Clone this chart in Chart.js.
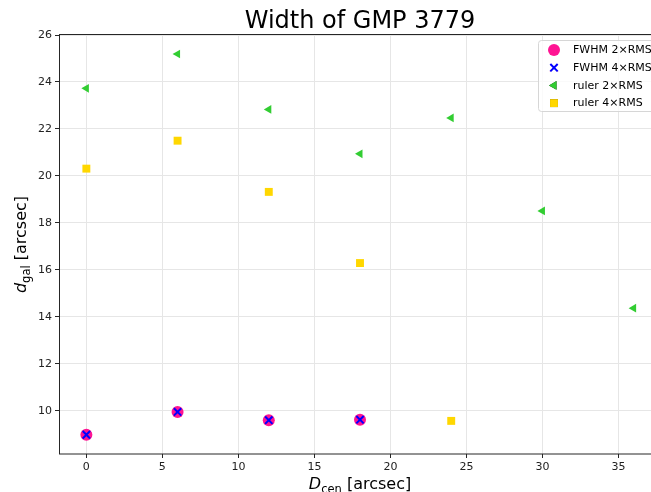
<!DOCTYPE html>
<html>
<head>
<meta charset="utf-8">
<script src="https://cdn.jsdelivr.net/npm/chart.js@4/dist/chart.umd.min.js"></script>
<style>
  html, body { margin: 0; padding: 0; background: #fff; overflow: hidden; }
  #wrap { width: 651px; height: 492px; overflow: hidden; }
</style>
</head>
<body>
<div id="wrap"><canvas id="c" width="680" height="492"></canvas></div>
<script>
// Distance from centre (arcsec) for each measurement
const fwhmX = [0, 6, 12, 18];
const fwhm2rms = [8.98, 9.95, 9.6, 9.62];
const fwhm4rms = [8.98, 9.95, 9.6, 9.62];

const rulerX = [0, 6, 12, 18, 24, 30, 36];
const ruler2rms = [23.73, 25.19, 22.83, 20.94, 22.47, 18.51, 14.37];
const ruler4x = [0, 6, 12, 18, 24];
const ruler4rms = [20.31, 21.5, 19.32, 16.29, 9.57];

const seriesNames = ['FWHM 2\u00d7RMS', 'FWHM 4\u00d7RMS', 'ruler 2\u00d7RMS', 'ruler 4\u00d7RMS'];
const xTickStep = 5;
const yTickStep = 2;

const pts = (xs, ys) => xs.map((x, i) => ({ x: x, y: ys[i] }));

const FONT = '"DejaVu Sans", sans-serif';

// Frame, title, axis labels and legend
const decor = {
  id: 'decor',
  afterDraw(chart) {
    const ctx = chart.ctx;
    const a = chart.chartArea;
    ctx.save();
    // spines
    ctx.strokeStyle = '#262626';
    ctx.lineWidth = 1;
    ctx.strokeRect(a.left + 0.5, a.top - 0.5, a.right - a.left, a.bottom - a.top + 0.5);

    const cx = (a.left + a.right) / 2;
    ctx.fillStyle = '#000';
    // title
    ctx.font = '24px ' + FONT;
    ctx.textAlign = 'center';
    ctx.textBaseline = 'alphabetic';
    ctx.fillText('Width of GMP 3779', cx, 28);

    // x label: D_cen [arcsec]
    drawSubLabel(ctx, 'D', 'cen', ' [arcsec]', cx, 489, 0);
    // y label: d_gal [arcsec]
    drawSubLabel(ctx, 'd', 'gal', ' [arcsec]', 26, (a.top + a.bottom) / 2, -Math.PI / 2);

    // legend
    const lx = 538, ly = 40, lw = 140, lh = 71;
    ctx.fillStyle = 'rgba(255,255,255,0.8)';
    ctx.strokeStyle = '#d6d6d6';
    ctx.lineWidth = 1;
    roundRect(ctx, lx + 0.5, ly + 0.5, lw, lh, 3);
    ctx.fill();
    ctx.stroke();
    ctx.font = '11px ' + FONT;
    ctx.textAlign = 'left';
    ctx.textBaseline = 'middle';
    chart.data.datasets.forEach((ds, i) => {
      const y = ly + 10 + i * 17.7;
      drawMarker(ctx, ds, 554, y);
      ctx.fillStyle = '#000';
      ctx.fillText(seriesNames[i], 573, y + 0.5);
    });
    ctx.restore();
  }
};

function roundRect(ctx, x, y, w, h, r) {
  ctx.beginPath();
  ctx.moveTo(x + r, y);
  ctx.lineTo(x + w - r, y);
  ctx.arcTo(x + w, y, x + w, y + r, r);
  ctx.lineTo(x + w, y + h - r);
  ctx.arcTo(x + w, y + h, x + w - r, y + h, r);
  ctx.lineTo(x + r, y + h);
  ctx.arcTo(x, y + h, x, y + h - r, r);
  ctx.lineTo(x, y + r);
  ctx.arcTo(x, y, x + r, y, r);
  ctx.closePath();
}

function drawMarker(ctx, ds, x, y) {
  Chart.helpers.drawPoint(ctx, {
    pointStyle: ds.pointStyle,
    rotation: ds.pointRotation || 0,
    radius: ds.pointRadius,
    borderWidth: ds.borderWidth
  }, x, y);
  ctx.fillStyle = ds.backgroundColor;
  ctx.strokeStyle = ds.borderColor;
  ctx.lineWidth = ds.borderWidth;
  ctx.fill();
  if (ds.borderWidth > 0) ctx.stroke();
}

function drawSubLabel(ctx, main, sub, rest, x, y, rot) {
  ctx.save();
  ctx.translate(x, y);
  ctx.rotate(rot);
  const big = '16px ' + FONT;
  const bigIt = 'italic 16px ' + FONT;
  const small = '11.5px ' + FONT;
  ctx.font = bigIt; const w1 = ctx.measureText(main).width;
  ctx.font = small; const w2 = ctx.measureText(sub).width;
  ctx.font = big; const w3 = ctx.measureText(rest).width;
  let sx = -(w1 + w2 + w3) / 2;
  ctx.fillStyle = '#000';
  ctx.textAlign = 'left';
  ctx.textBaseline = 'alphabetic';
  ctx.font = bigIt; ctx.fillText(main, sx, 0); sx += w1;
  ctx.font = small; ctx.fillText(sub, sx, 3.5); sx += w2;
  ctx.font = big; ctx.fillText(rest, sx, 0);
  ctx.restore();
}

new Chart(document.getElementById('c'), {
  type: 'scatter',
  data: {
    datasets: [
      { label: seriesNames[0], data: pts(fwhmX, fwhm2rms), pointStyle: 'circle', pointRadius: 6,
        backgroundColor: '#ff1493', borderColor: '#ff1493', borderWidth: 0, order: 4 },
      { label: seriesNames[1], data: pts(fwhmX, fwhm4rms), pointStyle: 'crossRot', pointRadius: 5.2,
        backgroundColor: '#0000ff', borderColor: '#0000ff', borderWidth: 2, order: 3 },
      { label: seriesNames[2], data: pts(rulerX, ruler2rms), pointStyle: 'triangle', pointRotation: -90, pointRadius: 5,
        backgroundColor: '#32cd32', borderColor: '#32cd32', borderWidth: 0, order: 2 },
      { label: seriesNames[3], data: pts(ruler4x, ruler4rms), pointStyle: 'rect', pointRadius: 5.6,
        backgroundColor: '#ffd700', borderColor: '#ffd700', borderWidth: 0, order: 1 }
    ]
  },
  options: {
    responsive: false,
    animation: false,
    events: [],
    layout: { padding: { left: 0, right: 19, top: 35, bottom: 0 } },
    plugins: { legend: { display: false }, title: { display: false }, tooltip: { enabled: false } },
    elements: { point: { hoverRadius: 0 } },
    scales: {
      x: {
        type: 'linear', min: -1.8, max: 37.8,
        afterFit(s) { s.height = 38; },
        ticks: { stepSize: xTickStep, includeBounds: false, color: '#222', padding: 3,
                 font: { family: FONT, size: 11 }, maxRotation: 0 },
        grid: { color: '#e6e6e6', tickColor: '#262626', tickLength: 4, lineWidth: 1 },
        border: { display: false }
      },
      y: {
        type: 'linear', min: 8.16, max: 26.0,
        afterFit(s) { s.width = 59; },
        ticks: { stepSize: yTickStep, includeBounds: false, color: '#222', padding: 3,
                 font: { family: FONT, size: 11 } },
        grid: { color: '#e6e6e6', tickColor: '#262626', tickLength: 4, lineWidth: 1 },
        border: { display: false }
      }
    }
  },
  plugins: [decor]
});
</script>
</body>
</html>
